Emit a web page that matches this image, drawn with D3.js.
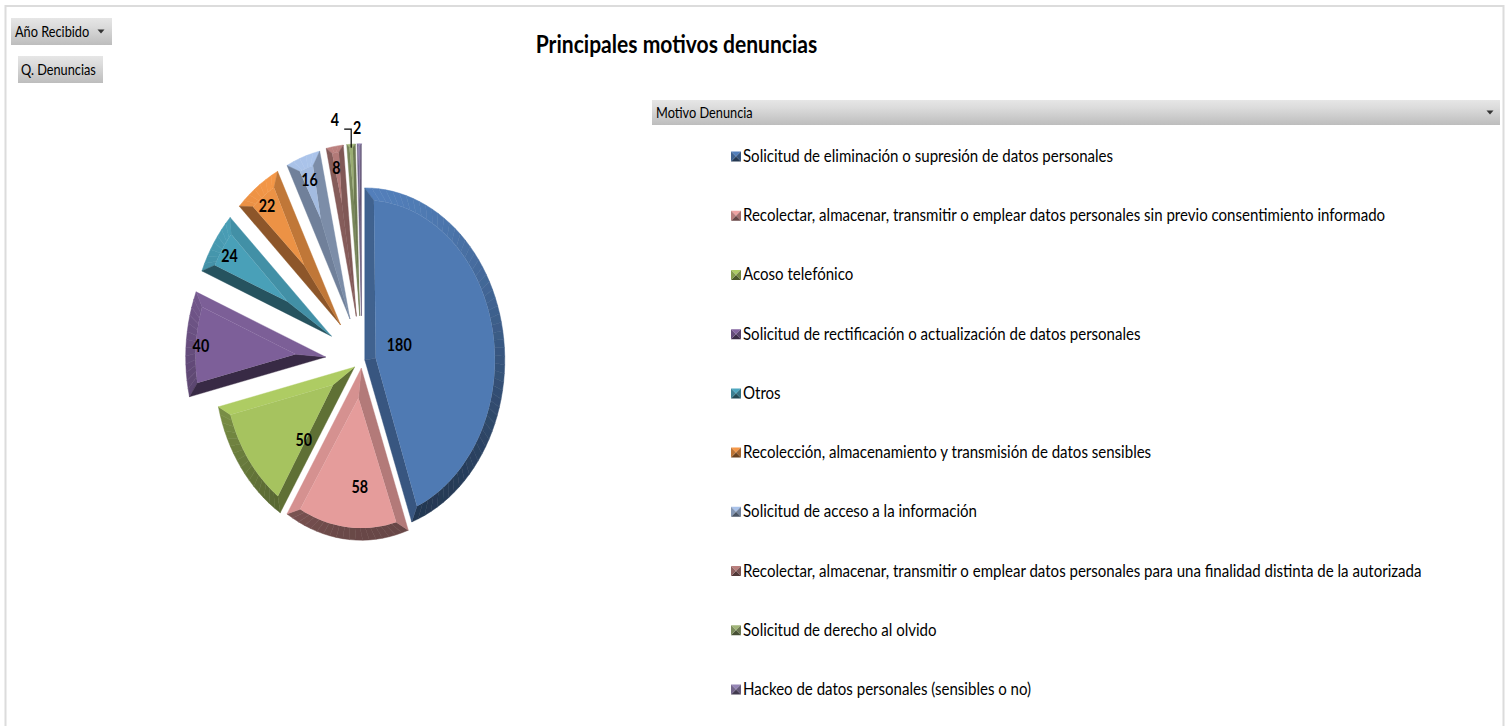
<!DOCTYPE html>
<html>
<head>
<meta charset="utf-8">
<script src="https://cdnjs.cloudflare.com/ajax/libs/d3/7.8.5/d3.min.js"></script>
<style>
  html, body { margin: 0; padding: 0; background: #fff; overflow: hidden; }
  text { font-family: Lato, "Open Sans", sans-serif; fill: #000; }
</style>
</head>
<body>
<svg id="chart" width="1512" height="726"></svg>
<script>
const motivos = [
  "Solicitud de eliminación o supresión de datos personales",
  "Recolectar, almacenar, transmitir o emplear datos personales sin previo consentimiento informado",
  "Acoso telefónico",
  "Solicitud de rectificación o actualización de datos personales",
  "Otros",
  "Recolección, almacenamiento y transmisión de datos sensibles",
  "Solicitud de acceso a la información",
  "Recolectar, almacenar, transmitir o emplear datos personales para una finalidad distinta de la autorizada",
  "Solicitud de derecho al olvido",
  "Hackeo de datos personales (sensibles o no)"
];
const denuncias = [180, 58, 50, 40, 24, 22, 16, 8, 4, 2];
const colores = ["#4f7ab3", "#e59c9b", "#a6c35f", "#7d5f99", "#4aa0b8", "#ec9244", "#a3bbe0", "#b27a78", "#9aad73", "#8f7fae"];

// pie layout, the slices are pulled out by different amounts
const explosion = [0.02, 0.045, 0.065, 0.26, 0.26, 0.257, 0.256, 0.26, 0.26, 0.26];
const labelFrac = [0.25, 0.7, 0.5, 0.88, 0.86, 0.87, 0.86, 0.88, 1.14, 1.09];
const labelNudge = [[0, -8], [9, -1], [6, 23], [-2, 1], [-1, 0], [-1, 1], [0, 0], [-1, 1], [-15, 0], [-2, 0]];

const cx = 362, cy = 360.5, rx = 140, ry = 172;
const lightX = -0.17, lightY = -0.98;

const svg = d3.select("#chart");
const defs = svg.append("defs");

function shade(color, nx, ny) {
  const f = 0.75 + 0.3 * (nx * lightX + ny * lightY);
  const c = d3.rgb(color);
  return d3.rgb(Math.min(255, c.r * f), Math.min(255, c.g * f), Math.min(255, c.b * f)).formatHex();
}

const btn = defs.append("linearGradient").attr("id", "btn")
  .attr("x1", 0).attr("y1", 0).attr("x2", 0).attr("y2", 1);
btn.append("stop").attr("offset", "0").attr("stop-color", "#e6e6e6");
btn.append("stop").attr("offset", "0.3").attr("stop-color", "#dcdcdc");
btn.append("stop").attr("offset", "1").attr("stop-color", "#bdbdbd");

// the reference is a soft screenshot
defs.append("filter").attr("id", "soft")
  .append("feGaussianBlur").attr("stdDeviation", 0.5);

// frame of the chart area
svg.append("path")
  .attr("d", "M5.5,726V6H1503.5V726")
  .attr("fill", "none").attr("stroke", "#dcdcdc").attr("stroke-width", 2);

function label(parent, str, x, y, size, sx, bold, anchor) {
  return parent.append("text")
    .attr("transform", `translate(${x},${y}) scale(${sx},1)`)
    .attr("text-anchor", anchor || "start")
    .attr("font-size", size)
    .attr("font-weight", bold ? 700 : 400)
    .text(str);
}

function fieldButton(x, y, w, h, str, arrowX, textX) {
  svg.append("rect").attr("x", x).attr("y", y).attr("width", w).attr("height", h).attr("fill", "url(#btn)");
  label(svg, str, x + textX, y + h / 2 + 5, 14.5, 0.88, false);
  if (arrowX) {
    svg.append("path")
      .attr("d", `M${arrowX - 3.5},${y + h / 2 - 2}h7l-3.5,4z`)
      .attr("fill", "#333");
  }
}

fieldButton(11, 18, 101, 27, "Año Recibido", 101, 4);
fieldButton(18, 56, 85, 27, "Q. Denuncias", null, 3);
fieldButton(652, 100, 848, 25, "Motivo Denuncia", 1490, 4);

label(svg, "Principales motivos denuncias", 676.5, 53, 24, 0.878, true, "middle");

// pie slices
const pie = d3.pie().sort(null).value(d => d);
const slices = pie(denuncias);
const line = d3.line();
const pieG = svg.append("g").attr("filter", "url(#soft)");
const labelG = svg.append("g");

const midAngle = d => (d.startAngle + d.endAngle) / 2;

slices.forEach((d, i) => {
  const mid = midAngle(d);
  const ax = cx + explosion[i] * rx * Math.sin(mid);
  const ay = cy - explosion[i] * ry * Math.cos(mid);
  const outer = (t, k) => [ax + k * rx * Math.sin(t), ay - k * ry * Math.cos(t)];

  const span = d.endAngle - d.startAngle;
  const arcWidth = span * (rx + ry) / 2;
  const b = Math.min(11, arcWidth * 0.3);
  const k = 1 - b / ((rx + ry) / 2);
  const delta = Math.min(b / ((rx + ry) / 2), span / 2 - 0.001);
  const t0 = d.startAngle, t1 = d.endAngle;

  // apex of the inner face, moved down the middle of the slice
  const p0 = outer(t0, 1), p1 = outer(t1, 1);
  const e0 = [p0[0] - ax, p0[1] - ay], e1 = [p1[0] - ax, p1[1] - ay];
  const n0 = Math.hypot(e0[0], e0[1]), n1 = Math.hypot(e1[0], e1[1]);
  const u0 = [e0[0] / n0, e0[1] / n0], u1 = [e1[0] / n1, e1[1] / n1];
  let bis = [u0[0] + u1[0], u0[1] + u1[1]];
  const bl = Math.hypot(bis[0], bis[1]);
  bis = [bis[0] / bl, bis[1] / bl];
  const cosA = u0[0] * u1[0] + u0[1] * u1[1];
  const halfSin = Math.sqrt(Math.max(0, (1 - cosA) / 2));
  const inset = Math.min(b / halfSin, 0.72 * Math.min(n0, n1));
  const f = [ax + bis[0] * inset, ay + bis[1] * inset];

  const q0 = outer(t0 + delta, k), q1 = outer(t1 - delta, k);
  const g = pieG.append("g");

  // normals of the two straight edges point away from the middle
  const perp = (u) => {
    const n = [-u[1], u[0]];
    return (n[0] * bis[0] + n[1] * bis[1]) > 0 ? [-n[0], -n[1]] : n;
  };
  const n0p = perp(u0), n1p = perp(u1);

  // outer band, small strips so it shades round the curve
  const steps = Math.max(2, Math.ceil(span / 0.05));
  d3.range(steps).forEach(s => {
    const a = t0 + span * s / steps, c = t0 + span * (s + 1) / steps;
    const ia = (t0 + delta) + (span - 2 * delta) * s / steps;
    const ic = (t0 + delta) + (span - 2 * delta) * (s + 1) / steps;
    const col = shade(colores[i], Math.sin((a + c) / 2), -Math.cos((a + c) / 2));
    g.append("path")
      .attr("d", line([outer(a, 1), outer(c, 1), outer(ic, k), outer(ia, k)]) + "Z")
      .attr("fill", col).attr("stroke", col).attr("stroke-width", 0.5);
  });

  const edge0 = shade(colores[i], n0p[0], n0p[1]);
  const edge1 = shade(colores[i], n1p[0], n1p[1]);
  g.append("path").attr("d", line([[ax, ay], p0, q0, f]) + "Z").attr("fill", edge0).attr("stroke", edge0).attr("stroke-width", 0.4);
  g.append("path").attr("d", line([[ax, ay], p1, q1, f]) + "Z").attr("fill", edge1).attr("stroke", edge1).attr("stroke-width", 0.4);

  // flat face
  const facePts = [f].concat(d3.range(0, steps + 1).map(s => outer((t0 + delta) + (span - 2 * delta) * s / steps, k)));
  g.append("path").attr("d", line(facePts) + "Z").attr("fill", colores[i]);

  // data label
  const lx = ax + labelFrac[i] * rx * Math.sin(mid) + labelNudge[i][0];
  const ly = ay - labelFrac[i] * ry * Math.cos(mid) + labelNudge[i][1];
  label(labelG, denuncias[i], lx, ly + 6, 17, 0.84, true, "middle");

  // leader for the value 4, the only one that needs it
  if (denuncias[i] === 4) {
    const tip = outer(mid, 0.98);
    labelG.append("path")
      .attr("d", line([tip, [tip[0], ly + 9], [tip[0] - 7, ly + 9]]))
      .attr("fill", "none").attr("stroke", "#000").attr("stroke-width", 1.2);
  }
});

// legend
const legendY = d3.scalePoint().domain(motivos).range([156, 689]);
const legend = svg.append("g");
motivos.forEach((m, i) => {
  const y = legendY(m), x0 = 731, s = 10;
  const top = y - s / 2 + 0.5;
  const c = [x0 + s / 2, top + s / 2];
  const tl = [x0, top], tr = [x0 + s, top], br = [x0 + s, top + s], bl = [x0, top + s];
  [[tl, tr, 0, -1], [tr, br, 1, 0], [br, bl, 0, 1], [bl, tl, -1, 0]].forEach(e => {
    legend.append("path")
      .attr("d", line([e[0], e[1], c]) + "Z")
      .attr("fill", shade(colores[i], e[2], e[3]));
  });
  label(legend, m, 743, y + 6, 17, 0.885, false);
});
</script>
</body>
</html>
